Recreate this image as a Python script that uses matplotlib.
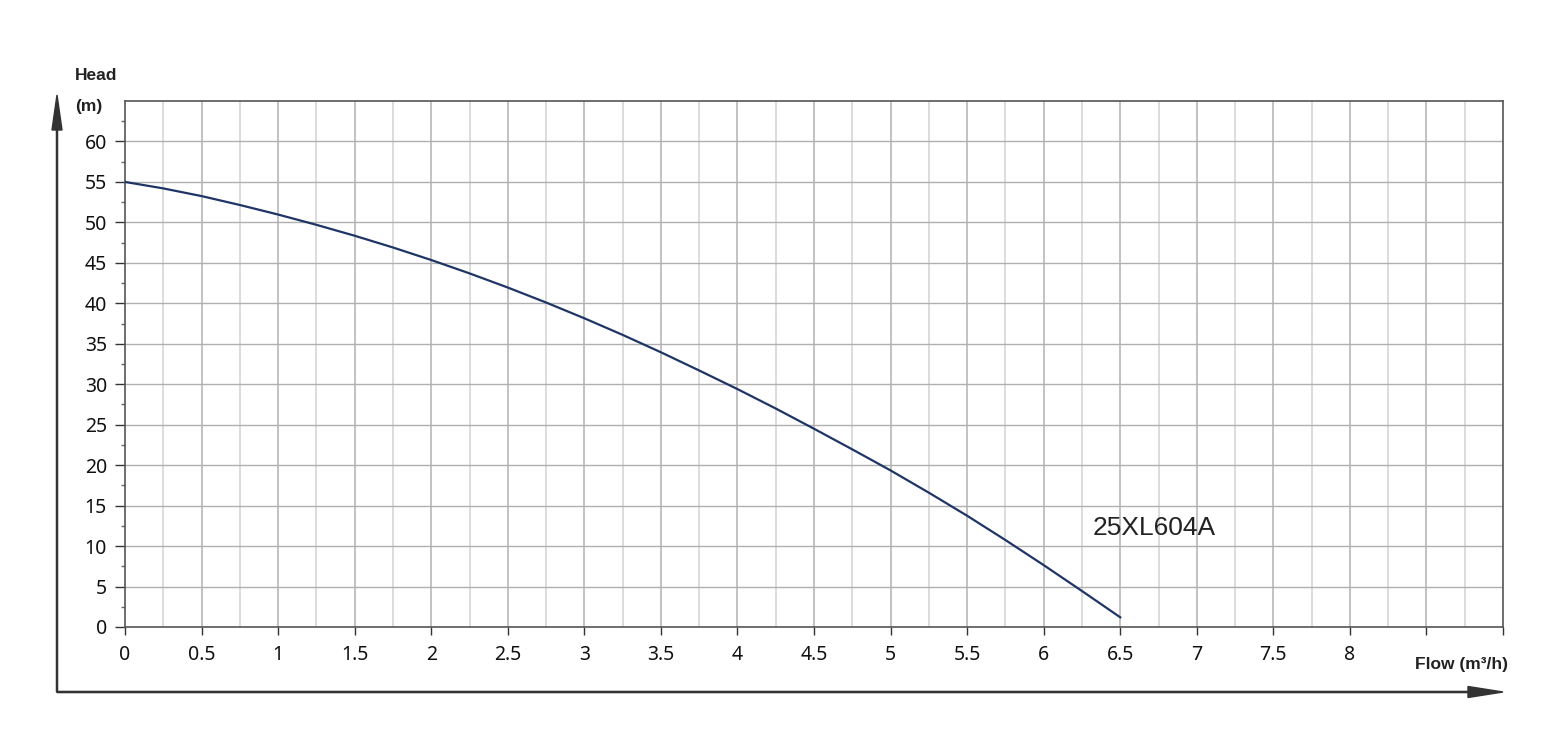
import matplotlib
matplotlib.use("Agg")
import matplotlib.pyplot as plt
import numpy as np

flow = [0, 0.25, 0.5, 0.75, 1, 1.25, 1.5, 1.75, 2, 2.25, 2.5, 2.75, 3, 3.25,
        3.5, 3.75, 4, 4.25, 4.5, 4.75, 5, 5.25, 5.5, 5.75, 6, 6.25, 6.5]
head = [55, 54.2, 53.25, 52.15, 50.97, 49.7, 48.35, 46.9, 45.35, 43.7, 41.95, 40.1, 38.15, 36.1,
        33.95, 31.7, 29.4, 27.0, 24.5, 21.95, 19.35, 16.6, 13.75, 10.75, 7.65, 4.45, 1.2]
x_labels = ["0", "0.5", "1", "1.5", "2", "2.5", "3", "3.5", "4", "4.5", "5", "5.5", "6", "6.5", "7", "7.5", "8", "", ""]
y_labels = ["0", "5", "10", "15", "20", "25", "30", "35", "40", "45", "50", "55", "60"]
model = "25XL604A"

plt.rcParams['font.family'] = ['Noto Sans', 'DejaVu Sans']

W, H = 1563, 741
fig = plt.figure(figsize=(W / 100, H / 100), dpi=100)
ax = fig.add_axes([125 / W, 1 - 627 / H, (1503 - 125) / W, (627 - 101) / H])

ax.set_xlim(0, 9)
ax.set_ylim(0, 65)

# grid
for xv in np.arange(0.25, 9, 0.25):
    major = abs(xv * 2 - round(xv * 2)) < 1e-9
    ax.axvline(xv, color='#b8b8b8' if major else '#d6d6d6', lw=1.2, zorder=1)
for yv in np.arange(5, 65, 5):
    ax.axhline(yv, color='#b0b0b0', lw=1.0, zorder=1)

ax.plot(flow, head, color='#1f3566', lw=1.6, zorder=3, solid_joinstyle='round')

ax.set_xticks(np.arange(0, 9.01, 0.5))
ax.set_xticklabels(x_labels)
ax.set_yticks(np.arange(0, 61, 5))
ax.set_yticklabels(y_labels)
ax.set_yticks(np.arange(2.5, 65, 5), minor=True)
ax.tick_params(axis='x', direction='out', length=6, width=1, color='#333333', labelsize=14, pad=7, labelcolor='#111111')
ax.tick_params(axis='y', direction='out', length=7, width=1, color='#333333', labelsize=14, pad=6, labelcolor='#111111')
ax.tick_params(axis='y', which='minor', direction='out', length=3, width=1, color='#666666')
for s in ax.spines.values():
    s.set_color('#555555')
    s.set_linewidth(1.2)

ax.text(6.32, 11.4, model, fontsize=19, family=['Liberation Sans', 'DejaVu Sans'],
        color='#222222', va='baseline', ha='left')

# outer arrows
fig.add_artist(matplotlib.patches.FancyArrow(57 / W, 1 - 692 / H, 0, (692 - 130) / H,
               width=0.0007, head_width=10 / W, head_length=35 / H,
               length_includes_head=False, color='#333333', transform=fig.transFigure))
fig.add_artist(matplotlib.patches.FancyArrow(57 / W, 1 - 692 / H, (1468 - 57) / W, 0,
               width=0.0016, head_width=11 / H, head_length=35 / W,
               length_includes_head=False, color='#333333', transform=fig.transFigure))

lab = dict(fontsize=12.5, fontweight='bold', va='center', color='#222222',
           family=['Liberation Sans', 'DejaVu Sans'])
fig.text(75 / W, 1 - 75 / H, "Head", ha='left', **lab)
fig.text(75 / W, 1 - 107 / H, "(m)", ha='left', **lab)
fig.text(1508 / W, 1 - 664 / H, "Flow (m³/h)", ha='right', **lab)

fig.savefig("out.png", dpi=100, facecolor='white')
